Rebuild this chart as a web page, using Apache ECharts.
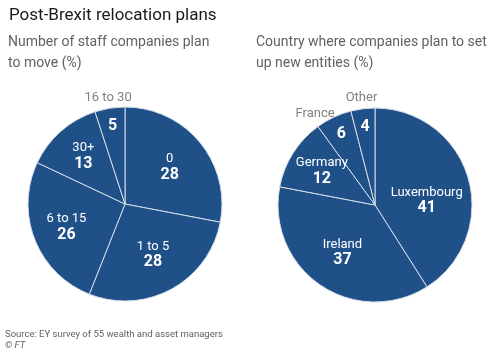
<!DOCTYPE html>
<html>
<head>
<meta charset="utf-8">
<script src="https://cdn.jsdelivr.net/npm/echarts@6/dist/echarts.min.js"></script>
<style>
  html, body { margin: 0; padding: 0; background: #fff; }
  #chart { width: 500px; height: 353px; }
</style>
</head>
<body>
<div id="chart"></div>
<script>
  // staff move pie
  const staffNames = ['0', '1 to 5', '6 to 15', '30+', '16 to 30'];
  const staffValues = [28, 28, 26, 13, 5];
  // country pie
  const countryNames = ['Luxembourg', 'Ireland', 'Germany', 'France', 'Other'];
  const countryValues = [41, 37, 12, 6, 4];

  const BLUE = '#1f5088';
  const FONT = 'Roboto';
  const R = 97;

  const rich = {
    n: { color: '#fff', fontSize: 13, fontFamily: FONT, lineHeight: 15 },
    v: { color: '#fff', fontSize: 16, fontFamily: FONT, fontWeight: 'bold', lineHeight: 17 },
    o: { color: '#857f7c', fontSize: 13, fontFamily: FONT }
  };

  // bands: A/B = name + value inside (A nearer the centre), C = value only, D = name outside
  function pieSet(names, values, center, bands, shifts) {
    let base = {
      type: 'pie', center: center, radius: R, startAngle: 90, clockwise: true,
      silent: true, animation: false,
      label: { show: false }, labelLine: { show: false },
      itemStyle: { color: BLUE, borderColor: '#d5dde8', borderWidth: 1 },
      data: names.map(function (n, i) { return { name: n, value: values[i] }; })
    };
    // transparent copies, only there to place labels at a given radius
    let layer = function (outer, band, fmt) {
      return {
        type: 'pie', center: center, radius: [0, outer], startAngle: 90, clockwise: true,
        silent: true, animation: false, avoidLabelOverlap: false,
        itemStyle: { color: 'rgba(0,0,0,0)', borderWidth: 0 },
        labelLine: { show: false },
        label: { show: true, position: 'inside', formatter: fmt, rich: rich },
        labelLayout: function (p) {
          let s = shifts[band + p.dataIndex] || {};
          return { dx: s.dx || 0, dy: s.dy || 0, hideOverlap: false };
        },
        data: names.map(function (n, i) {
          return { name: n, value: values[i], label: { show: bands[i].indexOf(band) >= 0 } };
        })
      };
    };
    return [
      base,
      layer(110, 'A', '{n|{b}}\n{v|{c}}'),
      layer(120, 'B', '{n|{b}}\n{v|{c}}'),
      layer(152, 'C', '{v|{c}}'),
      layer(210, 'D', '{o|{b}}')
    ];
  }

  let myChart = echarts.init(document.getElementById('chart'));
  let option = {
    backgroundColor: '#fff',
    title: [
      { text: 'Post-Brexit relocation plans', left: 4, top: 2,
        textStyle: { fontSize: 17, fontWeight: 'normal', color: '#1a1a1a', fontFamily: FONT } },
      { text: 'Number of staff companies plan\nto move (%)', left: 3, top: 27,
        textStyle: { fontSize: 14, fontWeight: 'normal', color: '#66605c', lineHeight: 21, fontFamily: FONT } },
      { text: 'Country where companies plan to set\nup new entities (%)', left: 251, top: 27,
        textStyle: { fontSize: 14, fontWeight: 'normal', color: '#66605c', lineHeight: 21, fontFamily: FONT } },
      { text: 'Source: EY survey of 55 wealth and asset managers', left: 0, top: 325,
        textStyle: { fontSize: 9.5, fontWeight: 'normal', color: '#66605c', fontFamily: FONT } },
      { text: '© FT', left: 0, top: 336,
        textStyle: { fontSize: 9.5, fontWeight: 'normal', fontStyle: 'italic', color: '#66605c', fontFamily: FONT } }
    ],
    series: [].concat(
      pieSet(staffNames, staffValues, [125, 204], ['A', 'A', 'B', 'B', 'CD'], {}),
      pieSet(countryNames, countryValues, [375, 205], ['A', 'A', 'B', 'CD', 'CD'],
        { A0: { dx: -4, dy: 12 }, D3: { dx: -14, dy: 6 } })
    )
  };
  myChart.setOption(option);
</script>
</body>
</html>
